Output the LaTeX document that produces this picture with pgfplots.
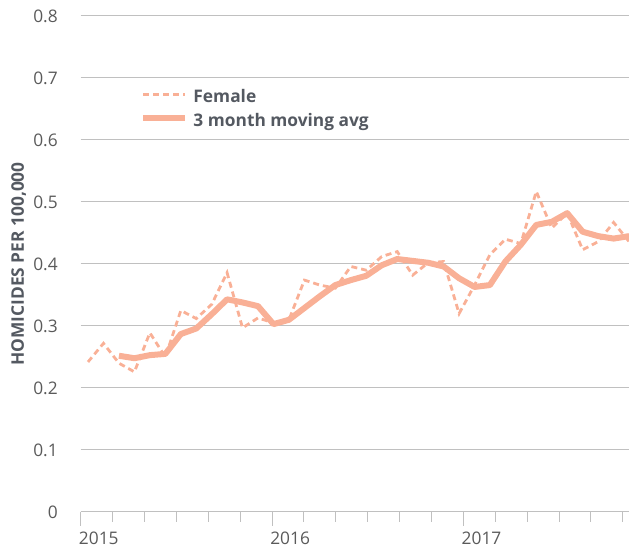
\documentclass[border=0pt]{standalone}
\usepackage{fontspec}
\setmainfont{Open Sans}
\usepackage{pgfplots}
\pgfplotsset{compat=1.18}
\definecolor{salmon}{RGB}{249,176,150}
\definecolor{gridgray}{RGB}{192,192,192}
\definecolor{ticktext}{RGB}{90,90,90}
\definecolor{labeltext}{RGB}{84,89,97}
\newcommand\tfont{\fontsize{13}{15}\selectfont}
\begin{document}
\begin{tikzpicture}
\useasboundingbox (0,0) rectangle (471.75pt,414pt);
\begin{axis}[
  at={(60.5pt,30pt)}, anchor=south west,
  scale only axis, width=411.2pt, height=372pt,
  xmin=0, xmax=34.38, ymin=0, ymax=0.8,
  axis x line*=bottom, axis y line*=left,
  y axis line style={draw=none},
  x axis line style={gridgray, line width=0.75pt, -},
  ytick={0,0.1,0.2,0.3,0.4,0.5,0.6,0.7,0.8},
  yticklabels={0,0.1,0.2,0.3,0.4,0.5,0.6,0.7,0.8},
  ytick style={draw=none},
  ymajorgrids, grid style={gridgray, line width=0.75pt},
  xtick={0,12,24}, xticklabels={2015,2016,2017},
  minor xtick={2,4,6,8,10,14,16,18,20,22,26,28,30,32,34},
  tick align=outside,
  major tick length=10.5pt, minor tick length=7.5pt,
  xtick style={gridgray, line width=0.75pt},
  /pgf/number format/assume math mode=true,
  ticklabel style={font=\tfont, text=ticktext},
  xticklabel style={anchor=north west, inner xsep=0pt, xshift=-1.5pt, yshift=-1pt},
  yticklabel style={inner xsep=0pt, xshift=-6.5pt},
  ylabel={HOMICIDES PER 100,000},
  ylabel style={at={(axis description cs:-0.113,0.5)}, anchor=center, font=\tfont\bfseries, text=labeltext},
  legend style={at={(rel axis cs:0.108,0.855)}, anchor=north west, draw=none, fill=none,
    inner sep=0pt, row sep=0pt, font=\tfont\bfseries, text=labeltext,
    nodes={inner xsep=4pt, inner ysep=0pt, text height=11pt, text depth=7pt}},
  legend cell align=left,
  legend image code/.code={\draw[#1] (0pt,4.5pt) -- (31.5pt,4.5pt);},
]
\addplot[salmon, line width=2.1pt, dash pattern=on 4.5pt off 3pt] coordinates {
(0.46,0.242) (1.43,0.272) (2.40,0.240) (3.37,0.226) (4.34,0.289) (5.31,0.250) (6.28,0.325) (7.25,0.312) (8.22,0.335) (9.18,0.386) (10.15,0.297) (11.12,0.313) (12.09,0.305) (13.06,0.310) (14.03,0.374) (15.00,0.366) (15.97,0.361) (16.94,0.396) (17.91,0.390) (18.88,0.412) (19.85,0.420) (20.82,0.382) (21.79,0.402) (22.76,0.404) (23.73,0.320) (24.70,0.366) (25.66,0.415) (26.63,0.440) (27.60,0.433) (28.57,0.517) (29.54,0.458) (30.51,0.482) (31.48,0.423) (32.45,0.436) (33.42,0.467) (34.39,0.436)
};
\addlegendentry{Female}
\addplot[salmon, line width=4.5pt, line join=round] coordinates {
(2.40,0.252) (3.37,0.248) (4.34,0.253) (5.31,0.255) (6.28,0.287) (7.25,0.296) (8.22,0.319) (9.18,0.343) (10.15,0.338) (11.12,0.332) (12.09,0.303) (13.06,0.310) (14.03,0.329) (15.00,0.348) (15.97,0.366) (16.94,0.374) (17.91,0.381) (18.88,0.398) (19.85,0.408) (20.82,0.405) (21.79,0.402) (22.76,0.396) (23.73,0.377) (24.70,0.363) (25.66,0.366) (26.63,0.404) (27.60,0.431) (28.57,0.463) (29.54,0.468) (30.51,0.482) (31.48,0.452) (32.45,0.445) (33.42,0.441) (34.39,0.445)
};
\addlegendentry{3 month moving avg}
\end{axis}
\end{tikzpicture}
\end{document}
